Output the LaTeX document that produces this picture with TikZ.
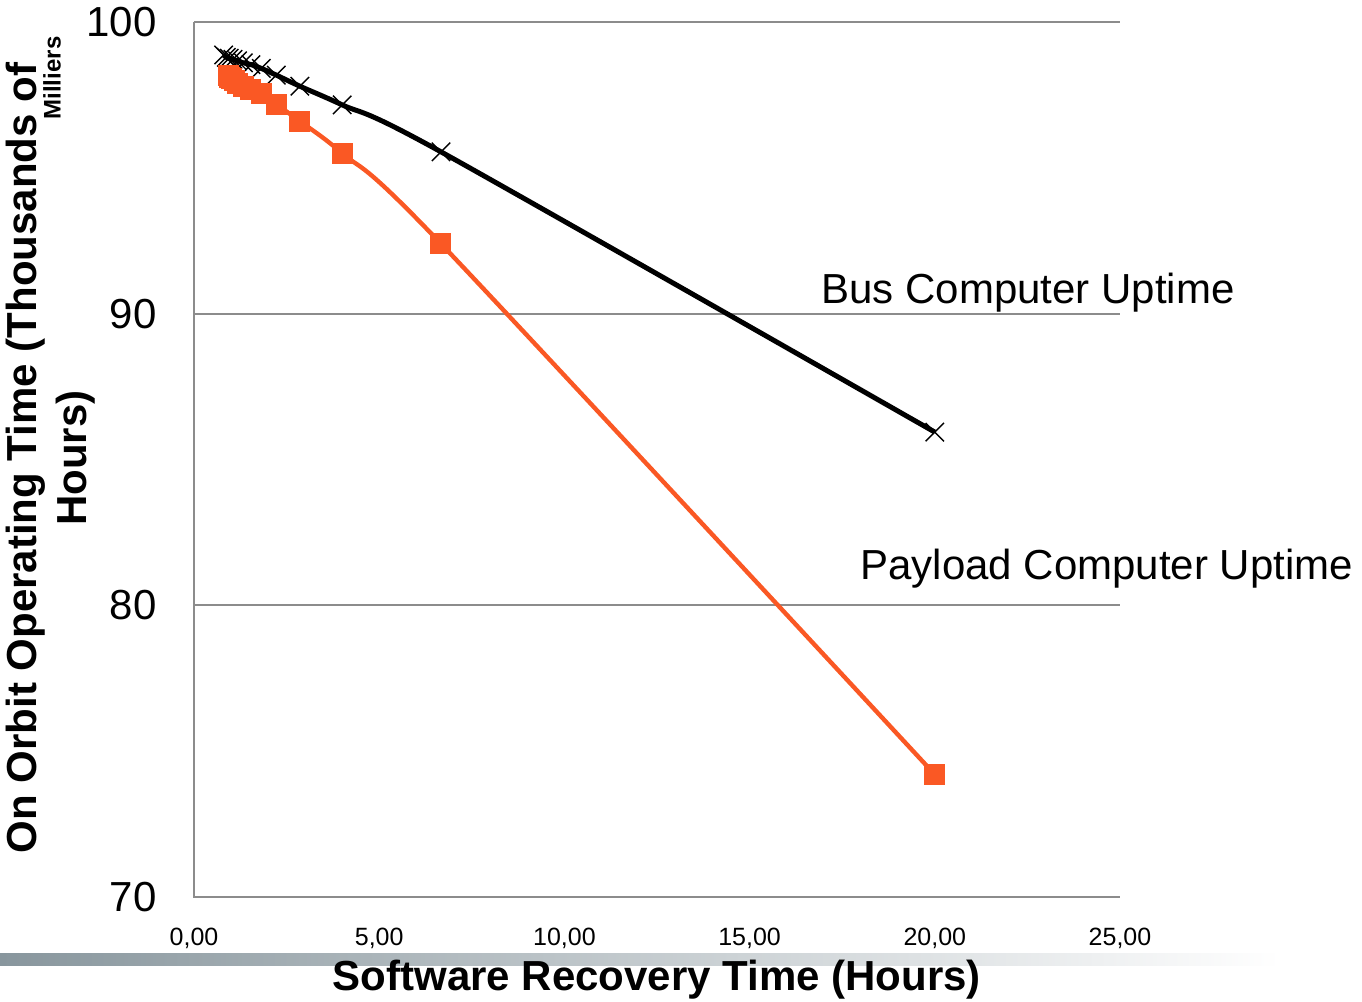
\documentclass[tikz,border=0pt]{standalone}
\usepackage{fontspec}
\setmainfont{Liberation Sans}
\usetikzlibrary{plotmarks}
\definecolor{gridgray}{RGB}{140,140,140}
\definecolor{payloadorange}{RGB}{250,88,36}
\definecolor{bargray}{RGB}{136,150,157}
\newcommand{\bigfont}{\fontsize{21}{25}\selectfont}
\newcommand{\tickfont}{\fontsize{12.5}{15}\selectfont}
\tikzstyle{gridline}=[draw=gridgray, line width=1pt]
\tikzstyle{yticklabel}=[anchor=east, inner sep=0, font=\bigfont]
\tikzstyle{xticklabel}=[inner sep=0, font=\tickfont]
\tikzstyle{serieslabel}=[anchor=base west, inner sep=0, font=\bigfont]
\tikzstyle{axistitle}=[inner sep=0, font=\bigfont\bfseries]
\tikzstyle{busline}=[black, line width=2.5pt, smooth, tension=0.5, mark=x, mark size=6.5pt,
                     mark options={line width=0.7pt}]
\tikzstyle{payloadline}=[payloadorange, line width=2.2pt, smooth, tension=0.5, mark=square*, mark size=5pt,
                         mark options={line width=0pt, fill=payloadorange}]

\begin{document}
\begin{tikzpicture}[x=0.5pt, y=-0.5pt]
        \useasboundingbox (0, 0) rectangle (1362, 1002);
        % gradient bar under the axis
        \shade[left color=bargray, right color=white] (0, 953) rectangle (1280, 965);
        % grid and axes
        \draw[gridline] (194, 22) -- (1120, 22);
        \draw[gridline] (194, 314) -- (1120, 314);
        \draw[gridline] (194, 605) -- (1120, 605);
        \draw[gridline] (194, 22) -- (194, 897) -- (1120, 897);
        \node[yticklabel] (y100) at (157, 22) {100};
        \node[yticklabel] (y90) at (157, 314) {90};
        \node[yticklabel] (y80) at (157, 605) {80};
        \node[yticklabel] (y70) at (157, 897) {70};
        \foreach \k/\lab in {0/{0,00}, 1/{5,00}, 2/{10,00}, 3/{15,00}, 4/{20,00}, 5/{25,00}}
            \node[xticklabel] (x\k) at (194+185.2*\k, 938) {\lab};
        \node[axistitle, anchor=base] (xtitle) at (657, 990) {Software Recovery Time (Hours)};
        \node[axistitle, rotate=90, align=center] (ytitle) at (51, 458)
            {On Orbit Operating Time (Thousands of\\Hours)};
        \node[inner sep=0, rotate=90, font=\fontsize{12}{14}\selectfont\bfseries] (units) at (52, 78) {Milliers};
        % data
        \begin{scope}[shift={(97pt,-448.5pt)}, x=18.52pt, y=14.583pt]
            \draw[busline] plot coordinates {(0.8,28.87) (0.870,28.79) (0.952,28.76) (1.053,28.72)
                (1.176,28.67) (1.333,28.60) (1.538,28.54) (1.818,28.41) (2.222,28.18)
                (2.857,27.80) (4,27.16) (6.667,25.55) (20,15.94)};
            \draw[payloadline] plot coordinates {(0.92,28.15) (0.97,28.10) (1.02,28.05) (1.08,27.98)
                (1.176,27.90) (1.333,27.80) (1.538,27.70) (1.818,27.55) (2.222,27.18)
                (2.857,26.60) (4,25.50) (6.667,22.40) (20,4.20)};
        \end{scope}
        \node[serieslabel] (buslabel) at (821, 303) {Bus Computer Uptime};
        \node[serieslabel] (payloadlabel) at (860, 579) {Payload Computer Uptime};
    \end{tikzpicture}
\end{document}
